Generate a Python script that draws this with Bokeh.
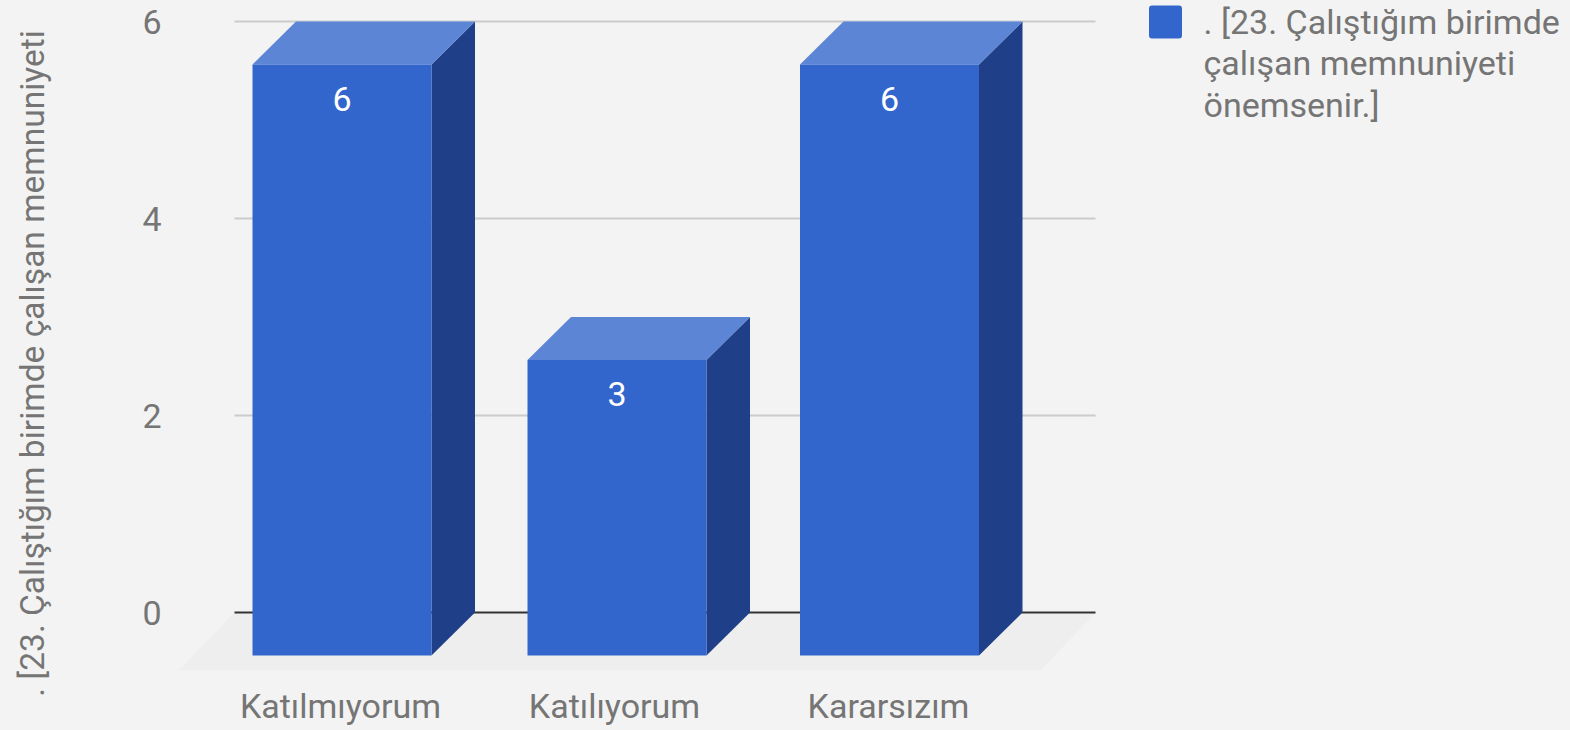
from bokeh.plotting import figure
from bokeh.models import FixedTicker, Range1d
from bokeh.embed import file_html
from bokeh.resources import INLINE
from bokeh.core.properties import value

categories = ["Katılmıyorum", "Katılıyorum", "Kararsızım"]
values = [6, 3, 6]
y_ticks = [0, 2, 4, 6]
axis_title = ". [23. Çalıştığım birimde çalışan memnuniyeti"
legend_lines = [". [23. Çalıştığım birimde", "çalışan memnuniyeti", "önemsenir.]"]

FONT = "Roboto"
TEXT = "#757575"
FRONT, TOP, SIDE = "#3366cc", "#5c85d6", "#1f4088"
BG, FLOOR = "#f3f3f3", "#eeeeee"

W, H = 1570, 730
L, B = 170, 4
FH = H - B
PX_X = 274.0
PX_Y = 98.5

X0, Y0 = 340.0, 612.0
def dx(px): return px / PX_X
def dy(px): return px / PX_Y
def xp(px): return (px - X0) / PX_X
def yp(px): return (Y0 - px) / PX_Y

BAR_CENTRES = [xp(341.5), xp(616.5), xp(889.0)]

p = figure(width=W, height=H, output_backend="svg", toolbar_location=None,
           x_range=Range1d(xp(L), xp(W)), y_range=Range1d(yp(FH), yp(0)),
           min_border_left=L, min_border_right=0, min_border_top=0, min_border_bottom=B,
           background_fill_color=BG, border_fill_color=BG, outline_line_color=None)
p.grid.visible = False

# y axis
ya = p.yaxis[0]
ya.ticker = FixedTicker(ticks=y_ticks)
ya.axis_line_color = None
ya.major_tick_line_color = None
ya.minor_tick_line_color = None
ya.major_label_standoff = 3
ya.major_label_text_font = FONT
ya.major_label_text_font_size = "34px"
ya.major_label_text_color = TEXT
ya.axis_label = axis_title
ya.axis_label_standoff = 87
ya.axis_label_text_font = FONT
ya.axis_label_text_font_size = "33.5px"
ya.axis_label_text_font_style = "normal"
ya.axis_label_text_color = TEXT

# x axis
xa = p.xaxis[0]
xa.ticker = FixedTicker(ticks=list(range(len(categories))))
xa.major_label_overrides = {i: c for i, c in enumerate(categories)}
xa.fixed_location = yp(672)
xa.axis_line_color = None
xa.major_tick_line_color = None
xa.minor_tick_line_color = None
xa.major_label_standoff = 7
xa.major_label_text_font = FONT
xa.major_label_text_font_size = "34px"
xa.major_label_text_color = TEXT

# geometry
half = dx(179) / 2
depth_x, depth_y = dx(43.5), dy(43)
grid_x0, grid_x1 = xp(234), xp(1095)

# gridlines and floor
g = [t for t in y_ticks if t != 0]
p.segment(x0=[grid_x0] * len(g), x1=[grid_x1] * len(g), y0=g, y1=g, line_color="#cccccc", line_width=2)
p.patch(x=[grid_x0, grid_x1, xp(1040), xp(178)], y=[0, 0, yp(670), yp(670)], fill_color=FLOOR, line_color=None)
p.segment(x0=[grid_x0], x1=[grid_x1], y0=[0], y1=[0], line_color="#333333", line_width=2)

# bars
for c, v in zip(BAR_CENTRES, values):
    xl, xr = c - half, c + half
    yb, yt = -depth_y, v - depth_y
    p.patch(x=[xr, xr + depth_x, xr + depth_x, xr], y=[yt, v, 0, yb], fill_color=SIDE, line_color=None)
    p.patch(x=[xl, xl + depth_x, xr + depth_x, xr], y=[yt, v, v, yt], fill_color=TOP, line_color=None)
    p.quad(left=xl, right=xr, bottom=yb, top=yt, fill_color=FRONT, line_color=None)

p.text(x=BAR_CENTRES, y=[v - depth_y for v in values], text=[str(v) for v in values],
       y_offset=34, text_align="center", text_baseline="middle",
       text_font=value(FONT), text_font_size="34px", text_color="#ffffff")

# legend
p.rect(x=[xp(1165)], y=[yp(21.5)], width=dx(27), height=dy(27), fill_color=FRONT,
       line_color=FRONT, line_width=6, line_join="round")
for k, line in enumerate(legend_lines):
    p.text(x=[xp(1203)], y=[yp(21 + k * 41.5)], text=[line], text_align="left", text_baseline="middle",
           text_font=value(FONT), text_font_size="34px", text_color=TEXT)

html = file_html(p, INLINE)
html = html.replace("</head>", "<style>html,body{margin:0;padding:0;background:#f3f3f3;overflow:hidden}</style></head>", 1)
open("out.html", "w").write(html)
